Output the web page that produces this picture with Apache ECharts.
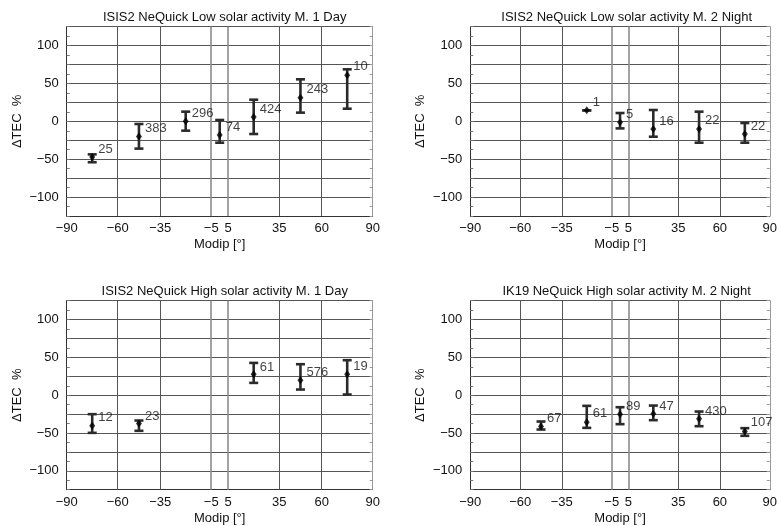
<!DOCTYPE html>
<html>
<head>
<meta charset="utf-8">
<script src="https://cdn.jsdelivr.net/npm/echarts@6/dist/echarts.min.js"></script>
<style>html,body{margin:0;padding:0;background:#fff}#c{width:780px;height:526px}</style>
</head>
<body>
<div id="c"></div>
<script>
// ---- data ----
const titles = [
  'ISIS2 NeQuick Low solar activity M. 1 Day',
  'ISIS2 NeQuick Low solar activity M. 2 Night',
  'ISIS2 NeQuick High solar activity M. 1 Day',
  'IK19 NeQuick High solar activity M. 2 Night'
];
const xTickLabels = [-90, -60, -35, -5, 5, 35, 60, 90];
const xGridValues = [-60, -35, -5, 5, 35, 60];
const yTickLabels = [-100, -50, 0, 50, 100];

const p1Modip  = [-75, -47.5, -20, 0, 20, 47.5, 75];
const p1Median = [-47, -20, 0, -18, 5.7, 31.3, 60.8];
const p1Low    = [-54, -36, -12.3, -28.2, -16.7, 11.5, 16.7];
const p1High   = [-43.6, -3.5, 12.8, 1.8, 28.6, 55.5, 68.7];
const p1Count  = [25, 383, 296, 74, 424, 243, 10];
const p1LabelY = [-37, -9.7, 10, -8.4, 15.9, 42.3, 72.2];

const p2Modip  = [-20, 0, 20, 47.5, 75];
const p2Median = [14.5, -1.3, -10.1, -10.1, -16.7];
const p2Low    = [14.5, -9.3, -20.3, -28.2, -28.2];
const p2High   = [14.5, 11, 15, 12.8, -2.2];
const p2Count  = [1, 5, 16, 22, 22];
const p2LabelY = [24.7, 9.3, 0, 0.9, -6.2];

const p3Modip  = [-75, -47.5, 20, 47.5, 75];
const p3Median = [-40.5, -37.4, 27.8, 19.8, 27.8];
const p3Low    = [-49.8, -47.1, 16.3, 7.5, 0.9];
const p3High   = [-25.1, -33.5, 42.7, 41, 46.3];
const p3Count  = [12, 23, 61, 576, 19];
const p3LabelY = [-30, -27.8, 37.4, 29.5, 38.3];

const p4Modip  = [-47.5, -20, 0, 20, 47.5, 75];
const p4Median = [-41.4, -35.7, -25.1, -24.7, -31.3, -48];
const p4Low    = [-45.4, -43.2, -38.3, -33, -41, -53.7];
const p4High   = [-34.8, -14.1, -15.9, -13.7, -21.6, -43.6];
const p4Count  = [67, 61, 89, 47, 430, 107];
const p4LabelY = [-30.4, -24.7, -15.4, -14.5, -21.6, -36.1];

const panels = [
  {modip: p1Modip, median: p1Median, low: p1Low, high: p1High, count: p1Count, labelY: p1LabelY},
  {modip: p2Modip, median: p2Median, low: p2Low, high: p2High, count: p2Count, labelY: p2LabelY},
  {modip: p3Modip, median: p3Median, low: p3Low, high: p3High, count: p3Count, labelY: p3LabelY},
  {modip: p4Modip, median: p4Median, low: p4Low, high: p4High, count: p4Count, labelY: p4LabelY}
];

// ---- layout ----
const FONT = '"Liberation Sans", Arial, Helvetica, sans-serif';
const TXT = '#111';
const GRID_C = '#555';
const grids = [
  {left: 66.7, top: 26.7, width: 306, height: 189.3},
  {left: 470.3, top: 26.7, width: 302.7, height: 189.3},
  {left: 66.7, top: 300.7, width: 306, height: 189},
  {left: 470.3, top: 300.7, width: 302.7, height: 189}
];
const fmt = v => (v < 0 ? '\u2212' + Math.abs(v) : String(v));

const option = {
  animation: false,
  backgroundColor: '#fff',
  textStyle: {fontFamily: FONT},
  title: grids.map((g, i) => ({
    text: titles[i],
    left: g.left + g.width / 2,
    top: g.top - 20.5,
    textAlign: 'center',
    textStyle: {fontFamily: FONT, fontSize: 13, fontWeight: 'normal', color: TXT}
  })),
  grid: grids.map(g => Object.assign({containLabel: false, show: false}, g)),
  xAxis: grids.map((g, i) => ({
    type: 'value', gridIndex: i, min: -90, max: 90, interval: 5,
    name: 'Modip [°]', nameLocation: 'middle', nameGap: 22,
    nameTextStyle: {fontFamily: FONT, fontSize: 13, color: TXT},
    axisLine: {show: true, onZero: false, lineStyle: {color: '#333', width: 1}},
    axisTick: {show: false},
    splitLine: {show: false},
    axisLabel: {
      fontFamily: FONT, fontSize: 13, color: TXT, margin: 6, showMinLabel: true, showMaxLabel: true,
      formatter: v => (xTickLabels.indexOf(v) >= 0 ? fmt(v) : '')
    }
  })),
  yAxis: [].concat(
    grids.map((g, i) => ({
      type: 'value', gridIndex: i, min: -125, max: 125, interval: 25,
      name: '\u0394TEC  %', nameLocation: 'middle', nameGap: 43, nameRotate: 90,
      nameTextStyle: {fontFamily: FONT, fontSize: 13, color: TXT},
      axisLine: {show: true, onZero: false, lineStyle: {color: '#333', width: 1}},
      axisTick: {show: true, inside: true, length: 3, lineStyle: {color: '#777'}},
      minorTick: {show: true, splitNumber: 2, length: 3, lineStyle: {color: '#777'}},
      splitLine: {show: true, lineStyle: {color: GRID_C, width: 1}},
      axisLabel: {
        fontFamily: FONT, fontSize: 13, color: TXT, margin: 8,
        formatter: v => (yTickLabels.indexOf(v) >= 0 ? fmt(v) : '')
      }
    })),
    grids.map((g, i) => ({
      type: 'value', gridIndex: i, min: -125, max: 125, interval: 25, position: 'right',
      axisLine: {show: true, onZero: false, lineStyle: {color: '#999', width: 1}},
      axisTick: {show: true, inside: true, length: 3, lineStyle: {color: '#999'}},
      minorTick: {show: true, splitNumber: 2, length: 3, lineStyle: {color: '#999'}},
      splitLine: {show: false},
      axisLabel: {show: false}
    }))
  ),
  series: []
};

panels.forEach((p, i) => {
  const errData = p.modip.map((x, k) => [x, p.low[k], p.high[k]]);
  option.series.push({
    type: 'custom', xAxisIndex: i, yAxisIndex: i, silent: true, z: 3,
    data: errData,
    encode: {x: 0, y: [1, 2]},
    renderItem: (params, api) => {
      const x = api.value(0);
      const a = api.coord([x, api.value(1)]);
      const b = api.coord([x, api.value(2)]);
      const hw = 4.5;
      const st = {stroke: '#2b2b2b', lineWidth: 2.6, lineCap: 'butt'};
      return {
        type: 'group',
        children: [
          {type: 'line', shape: {x1: a[0], y1: a[1], x2: b[0], y2: b[1]}, style: st},
          {type: 'line', shape: {x1: a[0] - hw, y1: a[1], x2: a[0] + hw, y2: a[1]}, style: st},
          {type: 'line', shape: {x1: b[0] - hw, y1: b[1], x2: b[0] + hw, y2: b[1]}, style: st}
        ]
      };
    },
    markLine: {
      silent: true, symbol: 'none', label: {show: false}, z: 1,
      data: xGridValues.map(v => ({
        xAxis: v,
        lineStyle: (v === -5 || v === 5)
          ? {color: '#8c8c8c', width: 1.6, type: 'solid'}
          : {color: GRID_C, width: 1, type: 'solid'}
      }))
    }
  });
  option.series.push({
    type: 'scatter', xAxisIndex: i, yAxisIndex: i, silent: true, z: 4,
    symbol: 'diamond', symbolSize: [6, 8],
    itemStyle: {color: '#000'},
    data: p.modip.map((x, k) => [x, p.median[k]])
  });
  option.series.push({
    type: 'scatter', xAxisIndex: i, yAxisIndex: i, silent: true, z: 5,
    symbolSize: 0.01,
    itemStyle: {color: 'rgba(0,0,0,0)'},
    label: {
      show: true, position: 'right', distance: 6,
      fontFamily: FONT, fontSize: 13, color: TXT,
      formatter: prm => String(prm.value[2])
    },
    data: p.modip.map((x, k) => [x, p.labelY[k], p.count[k]])
  });
});

const chart = echarts.init(document.getElementById('c'), null, {renderer: 'canvas'});
chart.setOption(option);
</script>
</body>
</html>
